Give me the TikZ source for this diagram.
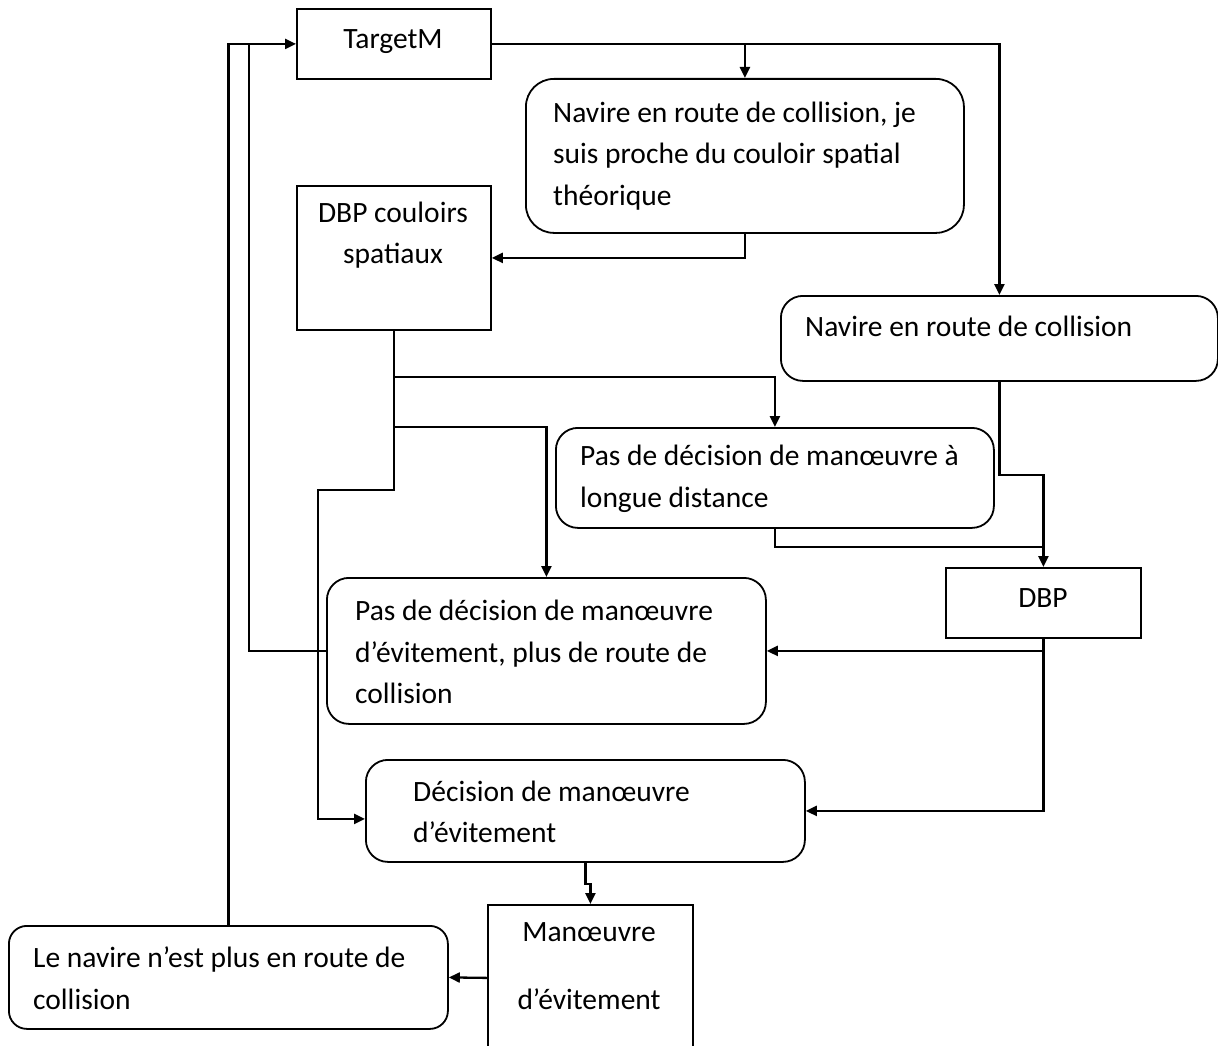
\documentclass[tikz,border=0pt]{standalone}
\usepackage{fontspec}
\setmainfont{Carlito}
\usetikzlibrary{arrows.meta,calc}
\begin{document}
\begin{tikzpicture}[x=1pt,y=-1pt,
  box/.style={draw,line width=1.8pt,inner sep=0pt,anchor=north west},
  rbox/.style={box,rounded corners=22pt},
  txt/.style={inner sep=0pt,align=left,anchor=west,font=\fontsize{29.5}{41.5}\selectfont},
  ctxt/.style={inner sep=0pt,align=center,font=\fontsize{29.5}{41.5}\selectfont},
  conn/.style={line width=2.3pt,-{Triangle[length=11pt,width=10pt]}},
  wire/.style={line width=2.3pt},
]
\useasboundingbox (0,0) rectangle (1218,1046);
\clip (0,0) rectangle (1218,1046);
\fill[white] (0,0) rectangle (1218,1046);

% boxes
\node[box,minimum width=194,minimum height=70] (tm) at (296,8) {};
\node[rbox,rounded corners=28pt,minimum width=438,minimum height=154] (nav1) at (525,78) {};
\node[box,minimum width=194,minimum height=144] (dbpc) at (296,185) {};
\node[rbox,minimum width=437,minimum height=85] (nav2) at (780,295) {};
\node[rbox,minimum width=438,minimum height=100] (pas1) at (555,427) {};
\node[box,minimum width=195,minimum height=70] (dbp) at (945,567) {};
\node[rbox,minimum width=439,minimum height=146] (pas2) at (326,577) {};
\node[rbox,minimum width=439,minimum height=102] (dec) at (365,759) {};
\node[box,minimum width=205,minimum height=146] (man) at (487,904) {};
\node[rbox,rounded corners=18pt,minimum width=439,minimum height=103] (lenav) at (8,925) {};

% texts
\node[ctxt] (ttm) at (393,42) {TargetM};
\node[txt] (tnav1) at (553,156) {Navire en route de collision, je\\suis proche du couloir spatial\\théorique};
\node[ctxt] (tdbpc) at (393,235) {DBP couloirs\\spatiaux};
\node[txt] (tnav2) at (805,326) {Navire en route de collision};
\node[txt] (tpas1) at (580,479) {Pas de décision de manœuvre à\\longue distance};
\node[ctxt] (tdbp) at (1043,598) {DBP};
\node[txt] (tpas2) at (355,652) {Pas de décision de manœuvre\\d’évitement, plus de route de\\collision};
\node[txt] (tdec) at (413,812) {Décision de manœuvre\\d’évitement};
\node[ctxt] (tman) at (589,966) {Manœuvre\\[26pt]d’évitement};
\node[txt] (tlenav) at (33,978) {Le navire n’est plus en route de\\collision};

% junction coordinates
\coordinate (b1) at (393,377);
\coordinate (b2) at (393,427);
\coordinate (k1) at (318,490);
\coordinate (b4) at (1042.5,547);
\coordinate (b5) at (249,43);

% connectors
\draw[conn] (tm.east) -| (nav2.north);
\draw[conn] (tm.east -| nav1.north) -- (nav1.north);
\draw[conn] (nav1.south) |- (dbpc.east);
\draw[conn] (dbpc.south) |- (k1) |- ($(dec.west)+(0,8)$);
\draw[conn] (b1) -| (pas1.north);
\draw[conn] (b2) -| (pas2.north);
\draw[conn] (nav2.south) -- ++(0,93) -| (dbp.north);
\draw[wire] (pas1.south) |- (b4);
\draw[conn] (dbp.south) |- (pas2.east);
\draw[conn] (dbp.south) |- (dec.east);
\draw[conn] (dec.south) -- ++(0,21) -| (man.north);
\draw[conn] (man.west) -- (lenav.east);
\draw[conn] (lenav.north) |- (tm.west);
\draw[wire] (pas2.west) -| (b5);
\end{tikzpicture}
\end{document}
